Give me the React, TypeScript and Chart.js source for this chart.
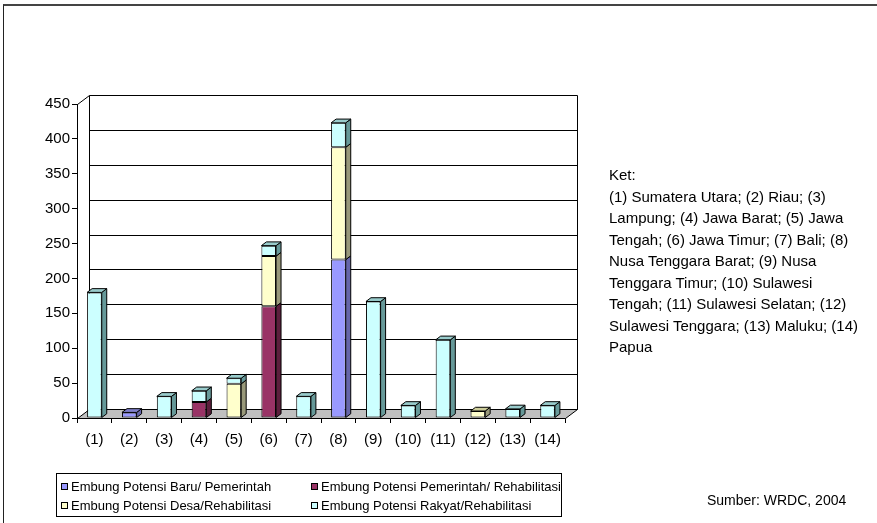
import React, { useEffect, useRef } from 'react';
import { Chart, registerables } from 'chart.js';

Chart.register(...registerables);

const categories = ['(1)', '(2)', '(3)', '(4)', '(5)', '(6)', '(7)', '(8)', '(9)', '(10)', '(11)', '(12)', '(13)', '(14)'];

const seriesNames = [
  'Embung Potensi Baru/ Pemerintah',
  'Embung Potensi Pemerintah/ Rehabilitasi',
  'Embung Potensi Desa/Rehabilitasi',
  'Embung Potensi Rakyat/Rehabilitasi',
];

const baruPemerintah = [null, 8, null, null, null, null, null, 227, null, null, null, null, null, null];
const pemerintahRehabilitasi = [null, null, null, 23, null, 160, null, null, null, null, null, null, null, null];
const desaRehabilitasi = [null, null, null, null, 49, 72, null, 161, null, null, null, 10, null, null];
const rakyatRehabilitasi = [180, null, 31, 16, 8, 15, 31, 35, 167, 18, 112, null, 13, 18];

const yMin = 0;
const yMax = 450;
const yStep = 50;

const ketLines = [
  'Ket:',
  '(1) Sumatera Utara; (2) Riau; (3)',
  'Lampung; (4) Jawa Barat; (5) Jawa',
  'Tengah; (6) Jawa Timur; (7) Bali; (8)',
  'Nusa Tenggara Barat; (9) Nusa',
  'Tenggara Timur; (10) Sulawesi',
  'Tengah; (11) Sulawesi Selatan; (12)',
  'Sulawesi Tenggara; (13) Maluku; (14)',
  'Papua',
];

const sourceText = 'Sumber: WRDC, 2004';

// styles
const frontColors = ['#9999ff', '#993366', '#ffffcc', '#ccffff'];
const sideColors = ['#6666aa', '#5c1f3d', '#99997a', '#669999'];
const topColors = ['#8080cc', '#7a2952', '#cccc99', '#99cccc'];
const FONT = "'Liberation Sans', Arial, sans-serif";
const DX = 12;
const DY = -9;
const BDX = 5;
const BDY = -3.75;

const threeD = {
  id: 'threeD',
  beforeDatasetsDraw(chart: any) {
    const { ctx, chartArea, scales } = chart;
    const left = Math.round(chartArea.left) + 0.5;
    const right = Math.round(chartArea.right) + 0.5;
    const top = Math.round(chartArea.top) + 0.5;
    const bottom = Math.round(chartArea.bottom) + 0.5;
    const y = scales.y;
    ctx.save();
    ctx.lineWidth = 1;
    ctx.strokeStyle = '#000';
    // back wall grid lines
    y.ticks.forEach((t: any) => {
      const py = Math.round(y.getPixelForValue(t.value) + DY) + 0.5;
      ctx.beginPath();
      ctx.moveTo(left + DX, py);
      ctx.lineTo(right + DX, py);
      ctx.stroke();
    });
    // back wall verticals
    ctx.beginPath();
    ctx.moveTo(left + DX, top + DY);
    ctx.lineTo(left + DX, bottom + DY);
    ctx.moveTo(right + DX, top + DY);
    ctx.lineTo(right + DX, bottom + DY);
    // left wall top diagonal
    ctx.moveTo(left, top);
    ctx.lineTo(left + DX, top + DY);
    ctx.stroke();
    // floor
    ctx.fillStyle = '#c0c0c0';
    ctx.beginPath();
    ctx.moveTo(left, bottom);
    ctx.lineTo(right, bottom);
    ctx.lineTo(right + DX, bottom + DY);
    ctx.lineTo(left + DX, bottom + DY);
    ctx.closePath();
    ctx.fill();
    ctx.stroke();
    ctx.restore();
  },
  afterDatasetsDraw(chart: any) {
    const { ctx } = chart;
    const n = chart.data.labels.length;
    ctx.save();
    ctx.lineWidth = 1;
    ctx.strokeStyle = '#000';
    for (let i = 0; i < n; i++) {
      let topDs = -1;
      chart.data.datasets.forEach((ds: any, d: number) => {
        if (ds.data[i] != null) topDs = d;
      });
      chart.data.datasets.forEach((ds: any, d: number) => {
        if (ds.data[i] == null) return;
        const el = chart.getDatasetMeta(d).data[i];
        const { x, y, base, width } = el.getProps(['x', 'y', 'base', 'width'], true);
        const l = x - width / 2;
        const r = x + width / 2;
        ctx.fillStyle = sideColors[d];
        ctx.beginPath();
        ctx.moveTo(r, y);
        ctx.lineTo(r + BDX, y + BDY);
        ctx.lineTo(r + BDX, base + BDY);
        ctx.lineTo(r, base);
        ctx.closePath();
        ctx.fill();
        ctx.stroke();
        if (d === topDs) {
          ctx.fillStyle = topColors[d];
          ctx.beginPath();
          ctx.moveTo(l, y);
          ctx.lineTo(r, y);
          ctx.lineTo(r + BDX, y + BDY);
          ctx.lineTo(l + BDX, y + BDY);
          ctx.closePath();
          ctx.fill();
          ctx.stroke();
        }
      });
    }
    ctx.restore();
  },
};

export default function App() {
  const ref = useRef<HTMLCanvasElement | null>(null);

  useEffect(() => {
    if (!ref.current) return;
    const seriesData = [baruPemerintah, pemerintahRehabilitasi, desaRehabilitasi, rakyatRehabilitasi];
    const chart = new Chart(ref.current, {
      type: 'bar',
      data: {
        labels: categories,
        datasets: seriesData.map((data, d) => ({
          label: seriesNames[d],
          data,
          backgroundColor: frontColors[d],
          borderColor: '#000',
          borderWidth: 1,
          borderSkipped: false,
          barPercentage: 0.42,
          categoryPercentage: 1,
        })),
      },
      options: {
        responsive: false,
        maintainAspectRatio: false,
        animation: false,
        layout: { padding: { left: 0, top: 104, right: 312, bottom: 75 } },
        plugins: {
          legend: { display: false },
          tooltip: { enabled: false },
        },
        scales: {
          x: {
            stacked: true,
            grid: { offset: true, drawOnChartArea: false, drawTicks: true, tickLength: 5, color: '#000', lineWidth: 1 },
            border: { display: true, color: '#000', width: 1 },
            ticks: { font: { family: FONT, size: 15 }, color: '#000', padding: 8, maxRotation: 0, autoSkip: false },
            afterFit: (s: any) => { s.height = 30; },
          },
          y: {
            stacked: true,
            min: yMin,
            max: yMax,
            ticks: { stepSize: yStep, font: { family: FONT, size: 15 }, color: '#000', padding: 2 },
            grid: { drawOnChartArea: false, drawTicks: true, tickLength: 5, color: '#000', lineWidth: 1 },
            border: { display: true, color: '#000', width: 1 },
            afterFit: (s: any) => { s.width = 77; },
          },
        },
      } as any,
      plugins: [threeD],
    });
    return () => chart.destroy();
  }, []);

  const legendItem = (d: number, left: number, top: number) => (
    <div key={d} style={{ position: 'absolute', left, top, height: 18, display: 'flex', alignItems: 'center', whiteSpace: 'nowrap' }}>
      <span style={{ display: 'inline-block', width: 5, height: 5, border: '1px solid #000', background: frontColors[d], marginRight: 3 }} />
      <span style={{ fontSize: 13, color: '#000' }}>{seriesNames[d]}</span>
    </div>
  );

  return (
    <div style={{ position: 'absolute', left: 0, top: 0, width: 877, height: 523, overflow: 'hidden', background: '#fff', fontFamily: FONT }}>
      <div style={{ position: 'absolute', left: 3, top: 4, width: 900, height: 600, borderTop: '2px solid #444', borderLeft: '1px solid #222' }} />
      <canvas ref={ref} width={877} height={523} style={{ position: 'absolute', left: 0, top: 0, width: 877, height: 523 }} />
      <div style={{ position: 'absolute', left: 609, top: 164, fontSize: 15, color: '#000' }}>
        {ketLines.map((t, i) => (
          <div key={i} style={{ height: 21.5, lineHeight: '21.5px', whiteSpace: 'nowrap' }}>{t}</div>
        ))}
      </div>
      <div style={{ position: 'absolute', left: 56, top: 473, width: 504, height: 42, border: '1px solid #000' }}>
        {legendItem(0, 4, 3)}
        {legendItem(1, 254, 3)}
        {legendItem(2, 4, 22)}
        {legendItem(3, 254, 22)}
      </div>
      <div style={{ position: 'absolute', left: 707, top: 492, fontSize: 14, color: '#000', whiteSpace: 'nowrap' }}>{sourceText}</div>
    </div>
  );
}
